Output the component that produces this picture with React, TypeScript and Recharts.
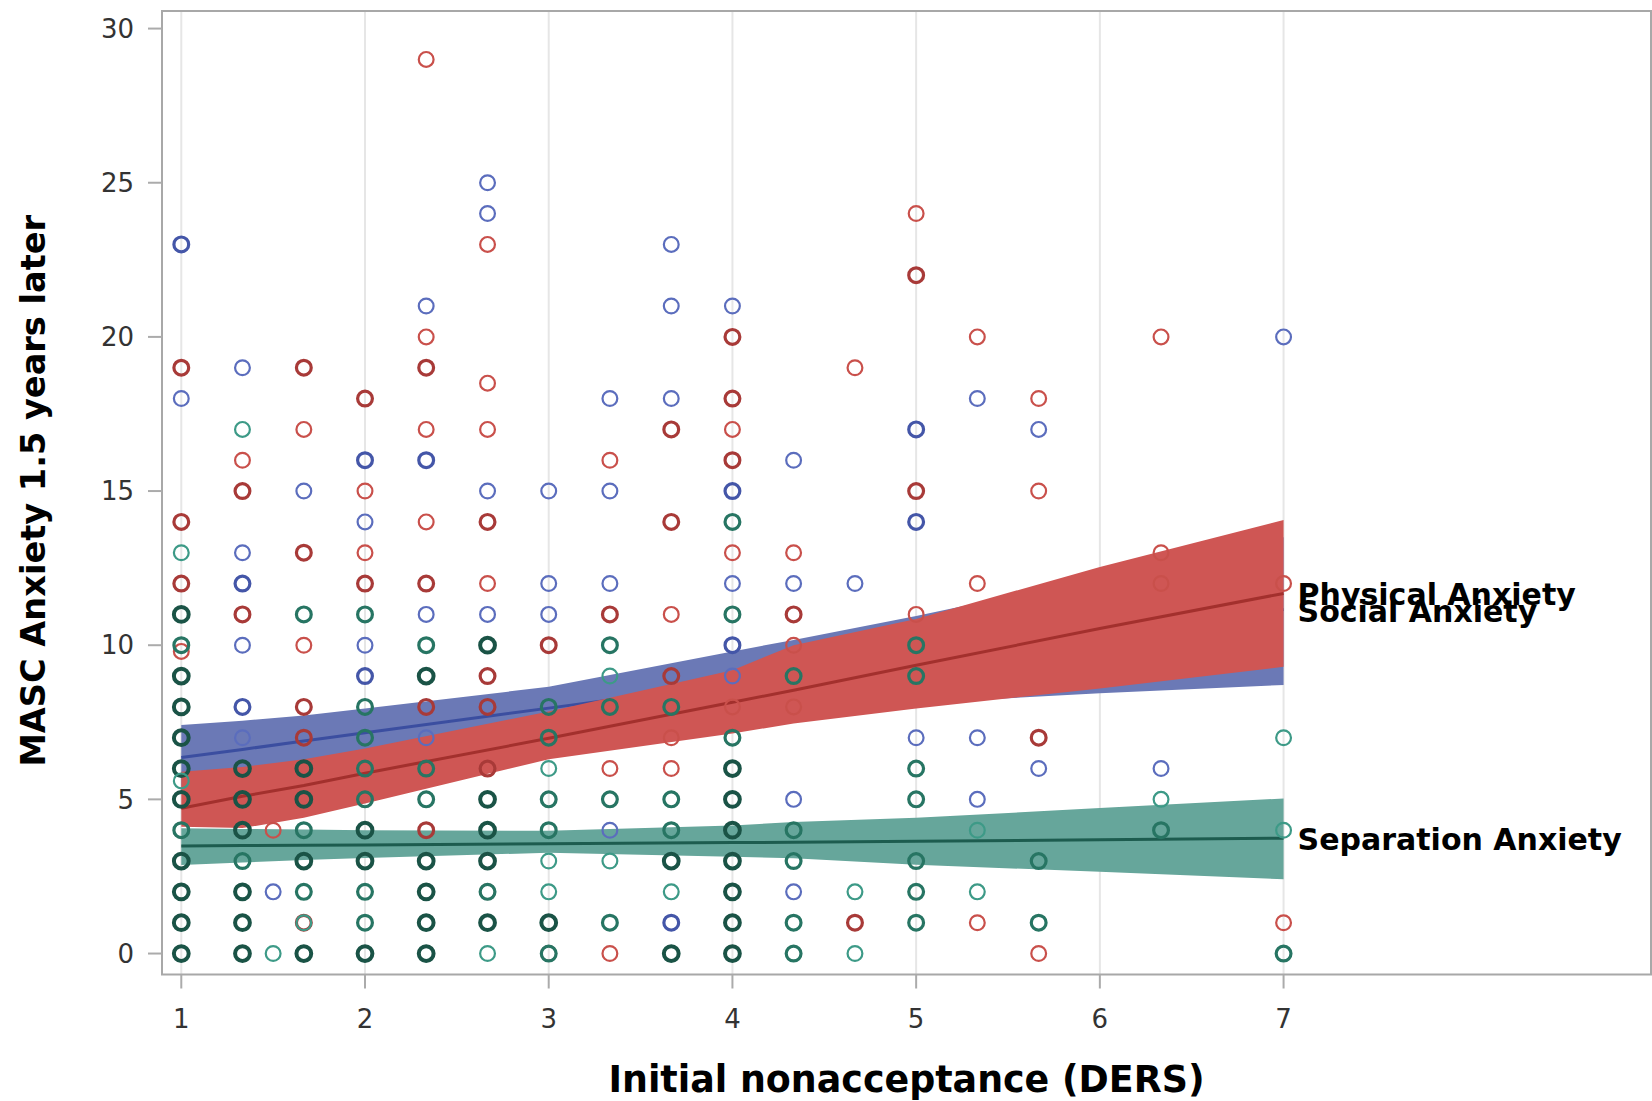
import React from 'react';
import {
  ComposedChart,
  XAxis,
  YAxis,
  CartesianGrid,
  Area,
  Scatter,
  ReferenceArea,
} from 'recharts';

// ---------- axis ticks ----------
const xTicks = [1, 2, 3, 4, 5, 6, 7];
const yTicks = [0, 5, 10, 15, 20, 25, 30];

// ---------- regression fits and 95% confidence bands ----------
const bandX = [1, 1.333, 1.667, 2, 3, 4, 4.333, 5, 6, 7];
const physicalHigh = [7.41, 7.55, 7.72, 7.95, 8.65, 9.8, 10.17, 10.95, 12.2, 13.5];
const physicalFit = [6.36, 6.62, 6.89, 7.16, 7.96, 8.76, 9.03, 9.56, 10.36, 11.16];
const physicalLow = [5.31, 5.69, 6.06, 6.37, 7.27, 7.72, 7.87, 8.12, 8.44, 8.71];
const socialHigh = [5.9, 6.05, 6.3, 6.65, 7.85, 9.19, 10.0, 10.85, 12.54, 14.06];
const socialFit = [4.71, 5.1, 5.45, 5.85, 6.98, 8.15, 8.54, 9.35, 10.54, 11.68];
const socialLow = [4.11, 4.07, 4.4, 4.87, 6.3, 7.14, 7.46, 7.95, 8.6, 9.3];
const separationHigh = [4.06, 4.04, 4.02, 4.0, 3.98, 4.15, 4.27, 4.4, 4.72, 5.03];
const separationFit = [3.49, 3.5, 3.51, 3.52, 3.56, 3.6, 3.61, 3.64, 3.69, 3.74];
const separationLow = [2.87, 2.95, 3.03, 3.1, 3.27, 3.14, 3.09, 2.88, 2.65, 2.41];

// ---------- curve labels ----------
const labelNames = ['Physical Anxiety', 'Social Anxiety', 'Separation Anxiety'];
const labelY = [11.64, 11.1, 3.72];

// ---------- observations: [x, y, overlapping count] ----------
const physicalPoints: number[][] = [
  [1, 23, 2], [1, 18, 1], [1, 6, 1],
  [1.333, 19, 1], [1.333, 13, 1], [1.333, 12, 2], [1.333, 10, 1], [1.333, 8, 2], [1.333, 7, 1],
  [1.5, 2, 1],
  [1.667, 15, 1],
  [2, 16, 2], [2, 14, 1], [2, 10, 1], [2, 9, 2],
  [2.333, 21, 1], [2.333, 16, 2], [2.333, 11, 1], [2.333, 7, 1],
  [2.667, 25, 1], [2.667, 24, 1], [2.667, 15, 1], [2.667, 11, 1],
  [3, 15, 1], [3, 12, 1], [3, 11, 1],
  [3.333, 18, 1], [3.333, 15, 1], [3.333, 12, 1], [3.333, 4, 1],
  [3.667, 23, 1], [3.667, 21, 1], [3.667, 18, 1], [3.667, 1, 2],
  [4, 21, 1], [4, 15, 2], [4, 12, 1], [4, 10, 2], [4, 9, 1],
  [4.333, 16, 1], [4.333, 12, 1], [4.333, 5, 1], [4.333, 2, 1],
  [4.667, 12, 1],
  [5, 17, 2], [5, 14, 2], [5, 7, 1],
  [5.333, 18, 1], [5.333, 7, 1], [5.333, 5, 1],
  [5.667, 17, 1], [5.667, 6, 1],
  [6.333, 6, 1],
  [7, 20, 1],
];

const socialPoints: number[][] = [
  [1, 19, 2], [1, 14, 2], [1, 12, 2], [1, 9.8, 1], [1, 4, 1],
  [1.333, 16, 1], [1.333, 15, 2], [1.333, 11, 2],
  [1.5, 4, 1],
  [1.667, 19, 2], [1.667, 17, 1], [1.667, 13, 2], [1.667, 10, 1], [1.667, 8, 2], [1.667, 7, 2], [1.667, 1, 2],
  [2, 18, 2], [2, 15, 1], [2, 13, 1], [2, 12, 2],
  [2.333, 29, 1], [2.333, 20, 1], [2.333, 19, 2], [2.333, 17, 1], [2.333, 14, 1], [2.333, 12, 2], [2.333, 8, 2], [2.333, 4, 2],
  [2.667, 23, 1], [2.667, 18.5, 1], [2.667, 17, 1], [2.667, 14, 2], [2.667, 12, 1], [2.667, 9, 2], [2.667, 8, 2], [2.667, 6, 2], [2.667, 2, 1],
  [3, 10, 2], [3, 0, 1],
  [3.333, 16, 1], [3.333, 11, 2], [3.333, 6, 1], [3.333, 0, 1],
  [3.667, 17, 2], [3.667, 14, 2], [3.667, 11, 1], [3.667, 9, 2], [3.667, 7, 1], [3.667, 6, 1],
  [4, 20, 2], [4, 18, 2], [4, 17, 1], [4, 16, 2], [4, 13, 1], [4, 8, 1],
  [4.333, 13, 1], [4.333, 11, 2], [4.333, 10, 1], [4.333, 8, 1],
  [4.667, 19, 1], [4.667, 1, 2],
  [5, 24, 1], [5, 22, 2], [5, 15, 2], [5, 11, 1],
  [5.333, 20, 1], [5.333, 12, 1], [5.333, 1, 1],
  [5.667, 18, 1], [5.667, 15, 1], [5.667, 7, 2], [5.667, 0, 1],
  [6.333, 20, 1], [6.333, 13, 1], [6.333, 12, 1],
  [7, 12, 1], [7, 1, 1],
];

const separationPoints: number[][] = [
  [1, 13, 1], [1, 11, 3], [1, 10, 2], [1, 9, 3], [1, 8, 3], [1, 7, 3], [1, 6, 3], [1, 5.6, 1], [1, 5, 3], [1, 4, 2], [1, 3, 3], [1, 2, 3], [1, 1, 3], [1, 0, 3],
  [1.333, 17, 1], [1.333, 6, 3], [1.333, 5, 3], [1.333, 4, 3], [1.333, 3, 2], [1.333, 2, 3], [1.333, 1, 3], [1.333, 0, 3],
  [1.5, 0, 1],
  [1.667, 11, 2], [1.667, 6, 3], [1.667, 5, 3], [1.667, 4, 2], [1.667, 3, 3], [1.667, 2, 2], [1.667, 1, 1], [1.667, 0, 3],
  [2, 11, 2], [2, 8, 2], [2, 7, 2], [2, 6, 2], [2, 5, 2], [2, 4, 3], [2, 3, 3], [2, 2, 2], [2, 1, 2], [2, 0, 3],
  [2.333, 10, 2], [2.333, 9, 3], [2.333, 6, 2], [2.333, 5, 2], [2.333, 3, 3], [2.333, 2, 3], [2.333, 1, 3], [2.333, 0, 3],
  [2.667, 10, 3], [2.667, 5, 3], [2.667, 4, 3], [2.667, 3, 3], [2.667, 2, 2], [2.667, 1, 3], [2.667, 0, 1],
  [3, 8, 2], [3, 7, 2], [3, 6, 1], [3, 5, 2], [3, 4, 2], [3, 3, 1], [3, 2, 1], [3, 1, 3], [3, 0, 2],
  [3.333, 10, 2], [3.333, 9, 1], [3.333, 8, 2], [3.333, 5, 2], [3.333, 3, 1], [3.333, 1, 2],
  [3.667, 8, 2], [3.667, 5, 2], [3.667, 4, 2], [3.667, 3, 3], [3.667, 2, 1], [3.667, 0, 3],
  [4, 14, 2], [4, 11, 2], [4, 7, 2], [4, 6, 3], [4, 5, 3], [4, 4, 3], [4, 3, 3], [4, 2, 3], [4, 1, 3], [4, 0, 3],
  [4.333, 9, 2], [4.333, 4, 2], [4.333, 3, 2], [4.333, 1, 2], [4.333, 0, 2],
  [4.667, 2, 1], [4.667, 0, 1],
  [5, 10, 2], [5, 9, 2], [5, 6, 2], [5, 5, 2], [5, 3, 2], [5, 2, 2], [5, 1, 2],
  [5.333, 4, 1], [5.333, 2, 1],
  [5.667, 3, 2], [5.667, 1, 2],
  [6.333, 5, 1], [6.333, 4, 2],
  [7, 7, 1], [7, 4, 1], [7, 0, 2],
];

// ---------- tables built for the library ----------
const bandRows = bandX.map((x, i) => ({
  x,
  physBand: [physicalLow[i], physicalHigh[i]],
  physFit: physicalFit[i],
  socBand: [socialLow[i], socialHigh[i]],
  socFit: socialFit[i],
  sepBand: [separationLow[i], separationHigh[i]],
  sepFit: separationFit[i],
}));

const toRows = (pts: number[][]) => pts.map(([x, y, n]) => ({ x, y, n }));
const labelRows = labelNames.map((name, i) => ({ x: bandX[bandX.length - 1], y: labelY[i], name }));

const FONT = '"DejaVu Sans", Verdana, sans-serif';

const makeMarker = (c1: string, c2: string, c3: string) => (props: any) => {
  const { cx, cy, payload } = props;
  if (cx == null || cy == null) return <g />;
  const n = payload.n;
  const stroke = n >= 3 ? c3 : n === 2 ? c2 : c1;
  const sw = n >= 3 ? 4 : n === 2 ? 3.2 : 2.2;
  return <circle cx={cx} cy={cy} r={7.4} fill="none" stroke={stroke} strokeWidth={sw} />;
};

const physMarker = makeMarker('#5b6dbd', '#4456a8', '#35448f');
const socMarker = makeMarker('#c9504b', '#a83a38', '#8e2d2d');
const sepMarker = makeMarker('#3d9a87', '#277563', '#1a5346');

const curveLabel = (props: any) => {
  const { cx, cy, payload } = props;
  if (cx == null || cy == null) return <g />;
  return (
    <text x={cx + 14} y={cy} dy="0.36em" fontFamily={FONT} fontWeight="bold" fontSize={30} fill="#000">
      {payload.name}
    </text>
  );
};

const XTitle = (p: any) => {
  const vb = p.viewBox;
  return (
    <text
      x={vb.x + vb.width / 2}
      y={vb.y + vb.height - 9}
      textAnchor="middle"
      fontFamily={FONT}
      fontWeight="bold"
      fontSize={36.4}
      fill="#000"
    >
      Initial nonacceptance (DERS)
    </text>
  );
};

const YTitle = (p: any) => {
  const vb = p.viewBox;
  const cx = vb.x + 33;
  const cy = vb.y + vb.height / 2 - 2;
  return (
    <text
      x={cx}
      y={cy}
      dy="0.36em"
      transform={`rotate(-90 ${cx} ${cy})`}
      textAnchor="middle"
      fontFamily={FONT}
      fontWeight="bold"
      fontSize={33.6}
      fill="#000"
    >
      MASC Anxiety 1.5 years later
    </text>
  );
};

const xDomain = [0.895, 9.0];
const yDomain = [-0.68, 30.57];

export default function App() {
  return (
    <div style={{ position: 'absolute', left: 0, top: 0, width: 1652, height: 1101, background: '#fff' }}>
      <ComposedChart
        width={1652}
        height={1101}
        data={bandRows}
        margin={{ top: 11, right: 1, left: 0, bottom: 0 }}
      >
        <CartesianGrid horizontal={false} stroke="#e6e6e6" strokeWidth={2} />
        <XAxis
          type="number"
          dataKey="x"
          domain={xDomain}
          ticks={xTicks}
          allowDataOverflow
          height={126.5}
          tickSize={14}
          tickMargin={21}
          axisLine={false}
          tickLine={{ stroke: '#ababab', strokeWidth: 2 }}
          tick={{ fontFamily: FONT, fontSize: 26, fill: '#333' }}
          label={{ content: XTitle }}
        />
        <YAxis
          type="number"
          dataKey="y"
          domain={yDomain}
          ticks={yTicks}
          allowDataOverflow
          width={162}
          tickSize={14}
          tickMargin={14}
          axisLine={false}
          tickLine={{ stroke: '#ababab', strokeWidth: 2 }}
          tick={{ fontFamily: FONT, fontSize: 26, fill: '#333' }}
          label={{ content: YTitle }}
        />
        {/* Physical: band then fit line */}
        <Area type="linear" dataKey="physBand" stroke="none" fill="#6b79b6" fillOpacity={1} isAnimationActive={false} activeDot={false} />
        <Area type="linear" dataKey="physFit" stroke="#3b4ea0" strokeWidth={3} fill="none" fillOpacity={0} baseValue="dataMin" isAnimationActive={false} activeDot={false} />
        {/* Social: band then fit line */}
        <Area type="linear" dataKey="socBand" stroke="none" fill="#cf5654" fillOpacity={1} isAnimationActive={false} activeDot={false} />
        <Area type="linear" dataKey="socFit" stroke="#a3302d" strokeWidth={3} fill="none" fillOpacity={0} baseValue="dataMin" isAnimationActive={false} activeDot={false} />
        {/* Separation: band then fit line */}
        <Area type="linear" dataKey="sepBand" stroke="none" fill="#66a69b" fillOpacity={1} isAnimationActive={false} activeDot={false} />
        <Area type="linear" dataKey="sepFit" stroke="#1d5c4f" strokeWidth={3} fill="none" fillOpacity={0} baseValue="dataMin" isAnimationActive={false} activeDot={false} />
        <Scatter data={toRows(physicalPoints)} dataKey="y" shape={physMarker} isAnimationActive={false} />
        <Scatter data={toRows(socialPoints)} dataKey="y" shape={socMarker} isAnimationActive={false} />
        <Scatter data={toRows(separationPoints)} dataKey="y" shape={sepMarker} isAnimationActive={false} />
        <Scatter data={labelRows} dataKey="y" shape={curveLabel} isAnimationActive={false} />
        <ReferenceArea
          x1={xDomain[0]}
          x2={xDomain[1]}
          y1={yDomain[0]}
          y2={yDomain[1]}
          fill="none"
          fillOpacity={0}
          stroke="#a8a8a8"
          strokeWidth={2}
          ifOverflow="visible"
        />
      </ComposedChart>
    </div>
  );
}
